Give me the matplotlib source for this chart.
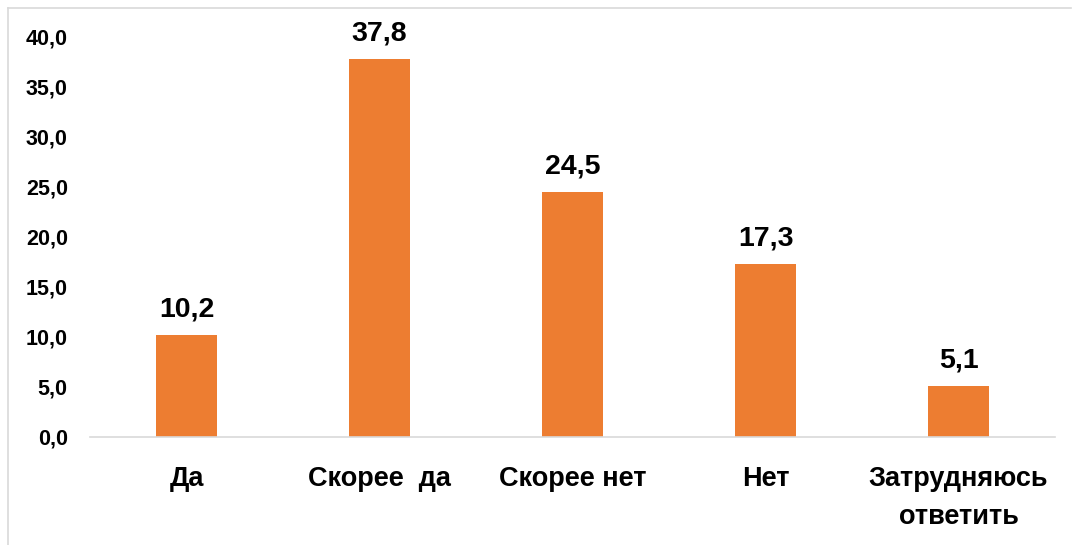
import matplotlib
matplotlib.use("Agg")
import matplotlib.pyplot as plt
from matplotlib.lines import Line2D
from matplotlib.ticker import FuncFormatter, MultipleLocator

categories = ["Да", "Скорее  да", "Скорее нет", "Нет", "Затрудняюсь\nответить"]
values = [10.2, 37.8, 24.5, 17.3, 5.1]

BAR_COLOR = "#ED7D31"
LINE_COLOR = "#D9D9D9"
FONT = "Liberation Sans"

W, H = 1072, 545
fig = plt.figure(figsize=(W / 100, H / 100), dpi=100)
ax = fig.add_axes([90 / W, (H - 437) / H, (1055 - 90) / W, 400 / H])

x = range(len(categories))
bars = ax.bar(x, values, width=0.316, color=BAR_COLOR, zorder=2)

ax.set_xlim(-0.5, len(categories) - 0.5)
ax.set_ylim(0, 40)
ax.yaxis.set_major_locator(MultipleLocator(5))
ax.yaxis.set_major_formatter(FuncFormatter(lambda v, _: f"{v:.1f}".replace(".", ",")))

for side in ("top", "right", "left"):
    ax.spines[side].set_visible(False)
ax.spines["bottom"].set_color(LINE_COLOR)
ax.spines["bottom"].set_linewidth(1.2)

ax.tick_params(axis="both", length=0)
ax.tick_params(axis="y", pad=16)
ax.tick_params(axis="x", pad=21)
ax.set_xticks(list(x))
ax.set_xticklabels(categories, fontfamily=FONT, fontweight="bold",
                   fontsize=19.5, linespacing=1.6)
for lab in ax.get_yticklabels():
    lab.set_fontfamily(FONT)
    lab.set_fontweight("bold")
    lab.set_fontsize(15.5)

for rect, v in zip(bars, values):
    ax.annotate(f"{v:.1f}".replace(".", ","),
                xy=(rect.get_x() + rect.get_width() / 2, v),
                xytext=(0, 13), textcoords="offset points",
                ha="center", va="baseline",
                fontfamily=FONT, fontweight="bold", fontsize=20.5)

# chart area frame (left and top edges visible)
fig.add_artist(Line2D([8 / W, 8 / W], [0, 1 - 8 / H], transform=fig.transFigure,
                      color=LINE_COLOR, linewidth=1.2))
fig.add_artist(Line2D([8 / W, 1071 / W], [1 - 8 / H, 1 - 8 / H], transform=fig.transFigure,
                      color=LINE_COLOR, linewidth=1.2))

fig.savefig("out.png", dpi=100, facecolor="white")
